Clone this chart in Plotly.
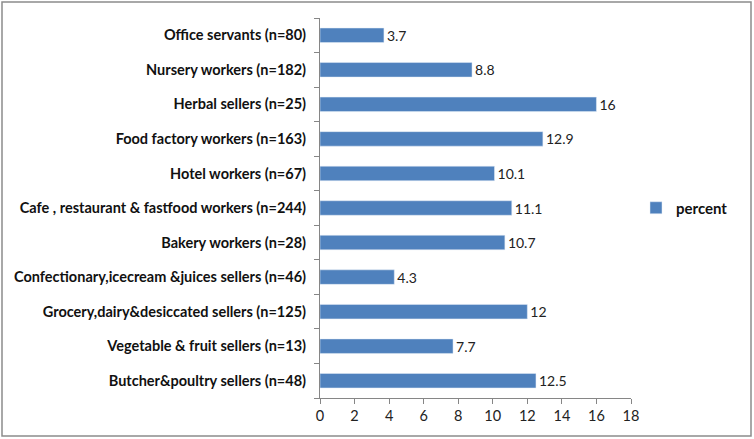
import plotly.graph_objects as go

# categories listed bottom to top, as plotted on the y axis
categories = [
    "Butcher&poultry sellers (n=48)",
    "Vegetable & fruit sellers (n=13)",
    "Grocery,dairy&desiccated sellers (n=125)",
    "Confectionary,icecream &juices sellers (n=46)",
    "Bakery workers (n=28)",
    "Cafe , restaurant & fastfood workers (n=244)",
    "Hotel workers (n=67)",
    "Food factory workers (n=163)",
    "Herbal sellers (n=25)",
    "Nursery workers (n=182)",
    "Office servants (n=80)",
]
percent = [12.5, 7.7, 12, 4.3, 10.7, 11.1, 10.1, 12.9, 16, 8.8, 3.7]
x_ticks = [0, 2, 4, 6, 8, 10, 12, 14, 16, 18]

font_family = "Lato, Carlito, Calibri, sans-serif"

fig = go.Figure()
fig.add_trace(go.Bar(
    y=categories,
    x=percent,
    orientation="h",
    name="percent",
    marker_color="#4F81BD",
    width=0.42,
    text=[f"{v:g}" for v in percent],
    textposition="outside",
    constraintext="none",
    textfont=dict(size=14, color="#222222", family=font_family),
    cliponaxis=False,
))

L, R, T, B = 320, 123, 18, 41
W, H = 754, 439
pw, ph = W - L - R, H - T - B

fig.update_layout(
    width=W,
    height=H,
    margin=dict(l=L, r=R, t=T, b=B, autoexpand=False),
    paper_bgcolor="white",
    plot_bgcolor="white",
    font=dict(family=font_family, size=14, color="#111111"),
    showlegend=True,
    legend=dict(
        x=1 + (636 - (W - R)) / pw, xanchor="left",
        y=0.5, yanchor="middle",
        font=dict(size=15, family=font_family, color="#111111", weight="bold"),
        itemwidth=30,
        bgcolor="rgba(0,0,0,0)",
    ),
)

fig.update_xaxes(
    range=[0, 18],
    tickvals=x_ticks,
    automargin=False,
    showgrid=False,
    zeroline=False,
    showline=True,
    linecolor="#868686",
    ticks="outside",
    ticklen=5,
    tickcolor="#868686",
    tickfont=dict(size=14.5, color="#222222"),
)
fig.update_yaxes(
    automargin=False,
    showgrid=False,
    showline=True,
    linecolor="#868686",
    ticks="outside",
    tickson="boundaries",
    ticklen=5,
    tickcolor="#868686",
    tickfont=dict(size=14.5, color="#111111", weight="bold"),
    ticklabelstandoff=10,
)

# outer chart border
fig.add_shape(
    type="rect", xref="paper", yref="paper",
    x0=(2 - L) / pw, x1=(W - 3 - L) / pw,
    y0=-(B - 3) / ph, y1=1 + (T - 2) / ph,
    line=dict(color="#8c8c8c", width=1.5),
    fillcolor="rgba(0,0,0,0)",
)

# drop the browser's default page margin so the figure sits at the window corner
fig.write_html(
    "out.html",
    config={"displayModeBar": False},
    post_script="document.body.style.margin='0';",
)
